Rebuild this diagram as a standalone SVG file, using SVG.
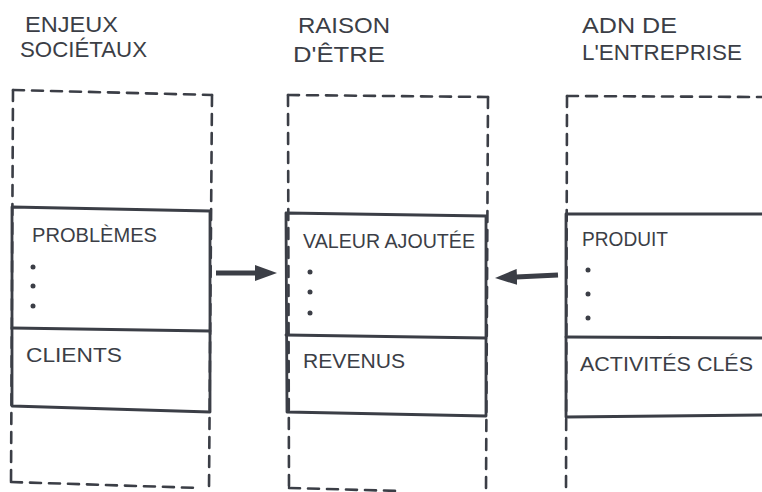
<svg xmlns="http://www.w3.org/2000/svg" width="762" height="492" viewBox="0 0 762 492">
  <defs>
    <style>
      .ink { stroke: #3b3e46; fill: none; stroke-linecap: round; stroke-linejoin: round; }
      .frame { stroke-width: 2.6; stroke-dasharray: 11 8; }
      .solid { stroke-width: 2.8; }
      .shaft { stroke-width: 5; stroke-linecap: butt; }
      .hand { font-family: "Liberation Sans", "DejaVu Sans", sans-serif; fill: #3b3e46; }
      .title { font-size: 22px; }
      .label { font-size: 20px; }
      .dot { fill: #3b3e46; }
    </style>
    <marker id="head" viewBox="0 0 22 16" refX="1" refY="8" markerWidth="22" markerHeight="16" markerUnits="userSpaceOnUse" orient="auto">
      <path d="M0,0 L22,8 L0,16 Z" fill="#3b3e46"/>
    </marker>
  </defs>

  <rect width="762" height="492" fill="#ffffff"/>

  <!-- Societal issues column -->
  <g id="enjeux-societaux">
    <text class="hand title" x="25" y="32" textLength="93" lengthAdjust="spacingAndGlyphs">ENJEUX</text>
    <text class="hand title" x="20" y="57" textLength="127" lengthAdjust="spacingAndGlyphs">SOCIÉTAUX</text>
    <path class="ink frame" d="M13,90 L212,95"/>
    <path class="ink frame" d="M13,90 L11,484"/>
    <path class="ink frame" d="M212,95 L209,489"/>
    <path class="ink frame" d="M11,482 L200,488"/>
    <path class="ink solid" d="M12,207 L210,211 L210,412 L12,406 Z"/>
    <path class="ink solid" d="M12,328 L210,331"/>
    <text class="hand label" x="32" y="242" textLength="125" lengthAdjust="spacingAndGlyphs">PROBLÈMES</text>
    <circle class="dot" cx="33" cy="267" r="2.5"/>
    <circle class="dot" cx="33" cy="286" r="2.5"/>
    <circle class="dot" cx="33" cy="306" r="2.5"/>
    <text class="hand label" x="26" y="362" textLength="96" lengthAdjust="spacingAndGlyphs">CLIENTS</text>
  </g>

  <!-- Purpose column -->
  <g id="raison-d-etre">
    <text class="hand title" x="298" y="33" textLength="92" lengthAdjust="spacingAndGlyphs">RAISON</text>
    <text class="hand title" x="293" y="62" textLength="92" lengthAdjust="spacingAndGlyphs">D'ÊTRE</text>
    <path class="ink frame" d="M288,95 L488,97"/>
    <path class="ink frame" d="M288,95 L289,492"/>
    <path class="ink frame" d="M488,97 L486,492"/>
    <path class="ink frame" d="M289,488 L400,491"/>
    <path class="ink solid" d="M286,213 L486,216 L486,416 L287,412 Z"/>
    <path class="ink solid" d="M286,335 L486,338"/>
    <text class="hand label" x="303" y="248" textLength="172" lengthAdjust="spacingAndGlyphs">VALEUR AJOUTÉE</text>
    <circle class="dot" cx="310" cy="272" r="2.5"/>
    <circle class="dot" cx="310" cy="292" r="2.5"/>
    <circle class="dot" cx="310" cy="313" r="2.5"/>
    <text class="hand label" x="303" y="368" textLength="102" lengthAdjust="spacingAndGlyphs">REVENUS</text>
  </g>

  <!-- Company DNA column -->
  <g id="adn-entreprise">
    <text class="hand title" x="582" y="33" textLength="95" lengthAdjust="spacingAndGlyphs">ADN DE</text>
    <text class="hand title" x="582" y="60" textLength="160" lengthAdjust="spacingAndGlyphs">L'ENTREPRISE</text>
    <path class="ink frame" d="M567,96 L762,97"/>
    <path class="ink frame" d="M567,96 L566,492"/>
    <path class="ink solid" d="M762,214 L566,214 L566,417 L762,415"/>
    <path class="ink solid" d="M566,337 L762,338"/>
    <text class="hand label" x="582" y="246" textLength="86" lengthAdjust="spacingAndGlyphs">PRODUIT</text>
    <circle class="dot" cx="588" cy="270" r="2.5"/>
    <circle class="dot" cx="588" cy="294" r="2.5"/>
    <circle class="dot" cx="588" cy="318" r="2.5"/>
    <text class="hand label" x="580" y="371" textLength="173" lengthAdjust="spacingAndGlyphs">ACTIVITÉS CLÉS</text>
  </g>

  <!-- Arrows between columns -->
  <g id="connectors">
    <path class="ink shaft" d="M216,273 L256,273" marker-end="url(#head)"/>
    <path class="ink shaft" d="M558,275 L516,277" marker-end="url(#head)"/>
  </g>
</svg>
